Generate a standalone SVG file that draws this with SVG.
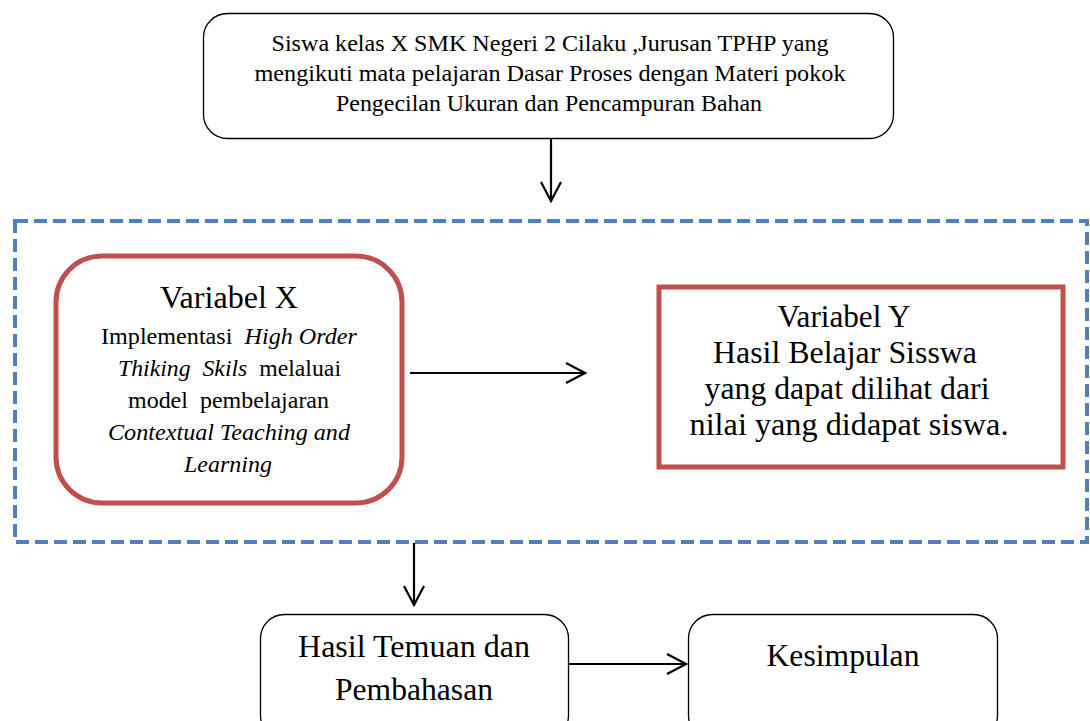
<svg xmlns="http://www.w3.org/2000/svg" width="1090" height="721" viewBox="0 0 1090 721">
<style>
.t{font-family:"Liberation Serif",Tinos,"Times New Roman",Times,serif;fill:#000;text-anchor:middle}
.blk{fill:#fff;stroke:#000;stroke-width:1.3}
.red{fill:#fff;stroke:#C0504D;stroke-width:5}
.conn{stroke:#000;stroke-width:2.2;fill:none}
</style>
<defs>
<marker id="ah" markerWidth="24" markerHeight="24" viewBox="-22 -12 24 24" refX="0" refY="0" orient="auto" markerUnits="userSpaceOnUse">
<path d="M-19,-10 L0,0 L-19,10" fill="none" stroke="#000" stroke-width="2.2"/>
</marker>
</defs>
<rect width="1090" height="721" fill="#fff"/>
<g id="frame">
<rect x="15" y="221" width="1072" height="321" fill="none" stroke="#4F81BD" stroke-width="4" stroke-dasharray="13,6"/>
</g>
<g id="connectors">
<line class="conn" x1="551" y1="139" x2="551" y2="201" marker-end="url(#ah)"/>
<line class="conn" x1="410" y1="373" x2="585" y2="373" marker-end="url(#ah)"/>
<line class="conn" x1="414" y1="543" x2="414" y2="605" marker-end="url(#ah)"/>
<line class="conn" x1="568" y1="664" x2="686" y2="664" marker-end="url(#ah)"/>
</g>
<g id="n_siswa">
<rect class="blk" x="203.5" y="13.5" width="690" height="125" rx="24"/>
<text class="t" font-size="24" x="550" y="51" textLength="557" lengthAdjust="spacingAndGlyphs">Siswa kelas X SMK Negeri 2 Cilaku ,Jurusan TPHP yang</text>
<text class="t" font-size="24" x="550" y="81" textLength="591" lengthAdjust="spacingAndGlyphs">mengikuti mata pelajaran Dasar Proses dengan Materi pokok</text>
<text class="t" font-size="24" x="549" y="111" textLength="426" lengthAdjust="spacingAndGlyphs">Pengecilan Ukuran dan Pencampuran Bahan</text>
</g>
<g id="n_varx">
<rect class="red" x="56" y="256" width="346" height="247" rx="46"/>
<text class="t" font-size="31" x="229" y="308" textLength="138" lengthAdjust="spacingAndGlyphs">Variabel X</text>
<text class="t" font-size="24" x="229" y="344" textLength="256" lengthAdjust="spacingAndGlyphs">Implementasi&#160; <tspan font-style="italic">High Order</tspan></text>
<text class="t" font-size="24" x="229.5" y="376" textLength="223" lengthAdjust="spacingAndGlyphs"><tspan font-style="italic">Thiking&#160; Skils</tspan>&#160; melaluai</text>
<text class="t" font-size="24" x="228.5" y="408" textLength="201" lengthAdjust="spacingAndGlyphs">model&#160; pembelajaran</text>
<text class="t" font-size="24" x="229" y="440" font-style="italic" textLength="242" lengthAdjust="spacingAndGlyphs">Contextual Teaching and</text>
<text class="t" font-size="24" x="228" y="472" font-style="italic" textLength="88" lengthAdjust="spacingAndGlyphs">Learning</text>
</g>
<g id="n_vary">
<rect class="red" x="659" y="287" width="404" height="180"/>
<text class="t" font-size="32" x="844" y="327" textLength="133" lengthAdjust="spacingAndGlyphs">Variabel Y</text>
<text class="t" font-size="32" x="845" y="363" textLength="264" lengthAdjust="spacingAndGlyphs">Hasil Belajar Sisswa</text>
<text class="t" font-size="32" x="847" y="399" textLength="285" lengthAdjust="spacingAndGlyphs">yang dapat dilihat dari</text>
<text class="t" font-size="32" x="849" y="435" textLength="319" lengthAdjust="spacingAndGlyphs">nilai yang didapat siswa.</text>
</g>
<g id="n_hasil">
<rect class="blk" x="260.5" y="614.5" width="308" height="125" rx="24"/>
<text class="t" font-size="32" x="414" y="657" textLength="232" lengthAdjust="spacingAndGlyphs">Hasil Temuan dan</text>
<text class="t" font-size="32" x="414" y="700" textLength="158" lengthAdjust="spacingAndGlyphs">Pembahasan</text>
</g>
<g id="n_kesimpulan">
<rect class="blk" x="688.5" y="614.5" width="309" height="125" rx="24"/>
<text class="t" font-size="32" x="843" y="666" textLength="153" lengthAdjust="spacingAndGlyphs">Kesimpulan</text>
</g>
</svg>
